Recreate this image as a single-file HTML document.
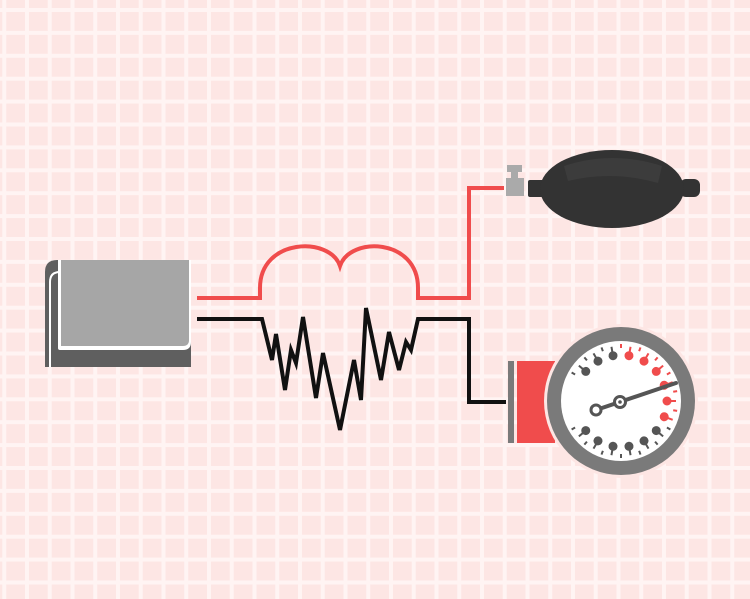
<!DOCTYPE html>
<html><head><meta charset="utf-8"><style>
html,body{margin:0;padding:0;width:750px;height:599px;overflow:hidden;background:#fde6e4}
</style></head><body>
<svg width="750" height="599" viewBox="0 0 750 599" xmlns="http://www.w3.org/2000/svg">
<defs>
<pattern id="g" x="25" y="8" width="22.75" height="22.9" patternUnits="userSpaceOnUse">
<rect width="22.75" height="22.9" fill="#fde6e4"/>
<rect x="0" y="0" width="4" height="22.9" fill="#fff4f3"/>
<rect x="0" y="0" width="22.75" height="4" fill="#fff4f3"/>
</pattern>
</defs>
<rect width="750" height="599" fill="url(#g)"/>

<!-- cuff -->
<path d="M45,272 Q45,260 57,260 L191,260 L191,367 L45,367 Z" fill="#5f5f5f"/>
<path d="M50,367 L50,282 Q50,272 60,272" fill="none" stroke="#fff" stroke-width="2"/>
<path d="M58,260 L58,348 Q58,350 60,350 L183,350 Q191,350 191,342 L191,260 Z" fill="#fff"/>
<path d="M61,260 L61,346 L183,346 Q189,346 189,340 L189,260 Z" fill="#a6a6a6"/>

<!-- red line -->
<path d="M197,298 L260,298 L260,288 C260,238 330,236 340,266 C350,236 418,238 418,288 L418,298 L469,298 L469,188 L504,188" fill="none" stroke="#f04c4c" stroke-width="4"/>

<!-- black zigzag -->
<path d="M197,319 L262,319 L272,360 L276,334 L285,390 L291,350 L296,363 L303,317 L316,398 L323,353 L340,430 L354,360 L361,400 L366,308 L381,380 L389,332 L399,370 L406,342 L411,350 L418,319 L469,319 L469,402 L506,402" fill="none" stroke="#111" stroke-width="4" stroke-linejoin="miter"/>

<!-- valve -->
<rect x="507" y="165" width="15" height="7" fill="#aaa"/>
<rect x="511" y="171" width="7" height="8" fill="#aaa"/>
<rect x="506" y="178" width="18" height="18" fill="#aaa"/>
<!-- bulb -->
<rect x="528" y="180" width="20" height="17" rx="2" fill="#333"/>
<rect x="680" y="179" width="20" height="18" rx="6" fill="#333"/>
<ellipse cx="612" cy="189" rx="72" ry="39" fill="#333"/>
<path d="M564,166 Q612,150 662,166 L658,183 Q612,170 568,181 Z" fill="#3c3c3c"/>

<!-- gauge -->
<rect x="508" y="361" width="6" height="82" fill="#7a7a7a"/>
<rect x="517" y="361" width="38" height="82" fill="#f04c4c"/>
<circle cx="621" cy="401" r="77" fill="#fde6e4"/>
<circle cx="621" cy="401" r="74" fill="#7a7a7a"/>
<circle cx="621" cy="401" r="60" fill="#fff"/>
<g transform="translate(621,401)">
<g fill="#555" stroke="#555">
<g transform="rotate(-140)"><line x1="46" y1="0" x2="55" y2="0" stroke-width="2"/><circle cx="46" r="4.5" stroke="none"/></g>
<g transform="rotate(-120)"><line x1="46" y1="0" x2="55" y2="0" stroke-width="2"/><circle cx="46" r="4.5" stroke="none"/></g>
<g transform="rotate(-100)"><line x1="46" y1="0" x2="55" y2="0" stroke-width="2"/><circle cx="46" r="4.5" stroke="none"/></g>
<g transform="rotate(40)"><line x1="46" y1="0" x2="55" y2="0" stroke-width="2"/><circle cx="46" r="4.5" stroke="none"/></g>
<g transform="rotate(60)"><line x1="46" y1="0" x2="55" y2="0" stroke-width="2"/><circle cx="46" r="4.5" stroke="none"/></g>
<g transform="rotate(80)"><line x1="46" y1="0" x2="55" y2="0" stroke-width="2"/><circle cx="46" r="4.5" stroke="none"/></g>
<g transform="rotate(100)"><line x1="46" y1="0" x2="55" y2="0" stroke-width="2"/><circle cx="46" r="4.5" stroke="none"/></g>
<g transform="rotate(120)"><line x1="46" y1="0" x2="55" y2="0" stroke-width="2"/><circle cx="46" r="4.5" stroke="none"/></g>
<g transform="rotate(140)"><line x1="46" y1="0" x2="55" y2="0" stroke-width="2"/><circle cx="46" r="4.5" stroke="none"/></g>
<g stroke-width="2"><line x1="53" x2="57" transform="rotate(-150)"/><line x1="53" x2="57" transform="rotate(-130)"/><line x1="53" x2="57" transform="rotate(-110)"/><line x1="53" x2="57" transform="rotate(30)"/><line x1="53" x2="57" transform="rotate(50)"/><line x1="53" x2="57" transform="rotate(70)"/><line x1="53" x2="57" transform="rotate(90)"/><line x1="53" x2="57" transform="rotate(110)"/><line x1="53" x2="57" transform="rotate(130)"/><line x1="53" x2="57" transform="rotate(150)"/></g>
</g>
<g fill="#f04c4c" stroke="#f04c4c">
<g transform="rotate(-80)"><line x1="46" y1="0" x2="55" y2="0" stroke-width="2"/><circle cx="46" r="4.5" stroke="none"/></g>
<g transform="rotate(-60)"><line x1="46" y1="0" x2="55" y2="0" stroke-width="2"/><circle cx="46" r="4.5" stroke="none"/></g>
<g transform="rotate(-40)"><line x1="46" y1="0" x2="55" y2="0" stroke-width="2"/><circle cx="46" r="4.5" stroke="none"/></g>
<g transform="rotate(-20)"><line x1="46" y1="0" x2="55" y2="0" stroke-width="2"/><circle cx="46" r="4.5" stroke="none"/></g>
<g transform="rotate(0)"><line x1="46" y1="0" x2="55" y2="0" stroke-width="2"/><circle cx="46" r="4.5" stroke="none"/></g>
<g transform="rotate(20)"><line x1="46" y1="0" x2="55" y2="0" stroke-width="2"/><circle cx="46" r="4.5" stroke="none"/></g>
<g stroke-width="2"><line x1="53" x2="57" transform="rotate(-90)"/><line x1="53" x2="57" transform="rotate(-70)"/><line x1="53" x2="57" transform="rotate(-50)"/><line x1="53" x2="57" transform="rotate(-30)"/><line x1="53" x2="57" transform="rotate(-10)"/><line x1="53" x2="57" transform="rotate(10)"/></g>
</g>
</g>
<line x1="596" y1="410" x2="676" y2="383" stroke="#555" stroke-width="4" stroke-linecap="round"/>
<circle cx="596" cy="410" r="5" fill="#fff" stroke="#555" stroke-width="3"/>
<circle cx="620" cy="402" r="5.5" fill="#fff" stroke="#555" stroke-width="3"/>
<circle cx="620" cy="402" r="1.8" fill="#555"/>
</svg>
</body></html>
